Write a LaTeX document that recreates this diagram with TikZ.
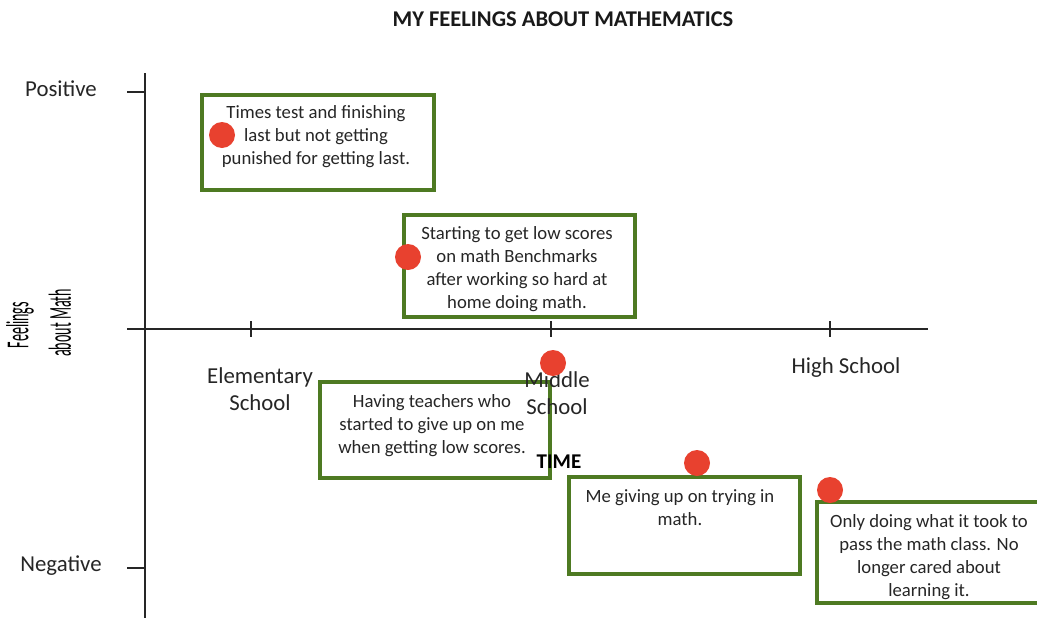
\documentclass[tikz,border=0pt]{standalone}
\usepackage{fontspec}
\setmainfont{Carlito}
\definecolor{boxgreen}{HTML}{4E7A22}
\definecolor{dotred}{HTML}{E8412F}
\definecolor{txt}{HTML}{262626}
\begin{document}
\begin{tikzpicture}[x=1pt,y=-1pt,
  box/.style={draw=boxgreen,line width=3.8pt,fill=white,inner sep=0pt,anchor=north west},
  btxt/.style={anchor=north,inner sep=0pt,align=center,text=txt,font=\fontsize{18.7}{23}\selectfont},
  dot/.style={circle,fill=dotred,minimum size=26pt,inner sep=0pt},
  lab/.style={text=txt,inner sep=0pt,align=center,font=\fontsize{22.8}{27}\selectfont},
  axis/.style={line width=2pt,black!85},
  tick/.style={line width=2pt,black!85},
  vlab/.style={rotate=90,text=black,inner sep=0pt,font=\fontsize{32}{34}\selectfont}]
\useasboundingbox (0,0) rectangle (1037,619);
\fill[white] (0,0) rectangle (1037,619);
% title
\node[text=black!90,font=\fontsize{22.5}{24}\selectfont\bfseries,inner sep=0pt] (title) at (563,19) {MY FEELINGS ABOUT MATHEMATICS};
% axes
\coordinate (yt) at (145,73);
\coordinate (yb) at (145,618);
\coordinate (xl) at (127,329);
\coordinate (xr) at (928,329);
\draw[axis] (yt) -- (yb);
\draw[axis] (xl) -- (xr);
% y ticks
\coordinate (tp1) at (127,92); \coordinate (tp2) at (145,92);
\coordinate (tn1) at (127,568); \coordinate (tn2) at (145,568);
\draw[tick] (tp1) -- (tp2);
\draw[tick] (tn1) -- (tn2);
% x ticks
\foreach \n/\x in {te/251,tm/551,th/830}{
  \coordinate (\n a) at (\x,321); \coordinate (\n b) at (\x,337);
  \draw[tick] (\n a) -- (\n b);
}
% axis labels
\node[lab] (pos) at (61,89) {Positive};
\node[lab] (neg) at (61,566) {Negative};
\node[vlab] (fa) at (20,325) {\scalebox{0.44}[1]{Feelings}};
\node[vlab] (fb) at (60,323) {\scalebox{0.44}[1]{about Math}};
% boxes
\node[box,minimum width=232pt,minimum height=95pt] (b1) at (200,93) {};
\node[box,minimum width=231pt,minimum height=102pt] (b2) at (402,213) {};
\node[box,minimum width=230pt,minimum height=96pt] (b3) at (318,380) {};
\node[box,minimum width=231pt,minimum height=97pt] (b4) at (567,475) {};
\node[box,minimum width=225pt,minimum height=101pt] (b5) at (815,500) {};
\node[btxt] (t1) at (316,105) {Times test and finishing\\last but not getting\\punished for getting last.};
\node[btxt] (t2) at (517,226) {Starting to get low scores\\on math Benchmarks\\after working so hard at\\home doing math.};
\node[btxt] (t3) at (432,394) {Having teachers who\\started to give up on me\\when getting low scores.};
\node[btxt] (t4) at (680,489) {Me giving up on trying in\\math.};
\node[btxt] (t5) at (929,514) {Only doing what it took to\\pass the math class. No\\longer cared about\\learning it.};
% x labels
\node[lab] (el) at (260,389) {Elementary\\School};
\node[lab] (ms) at (557,393) {Middle\\School};
\node[lab] (hs) at (846,368) {High School};
\node[text=black,inner sep=0pt,font=\fontsize{21}{23}\selectfont\bfseries] (time) at (559,462) {TIME};
% dots
\node[dot] (d1) at (222,135) {};
\node[dot] (d2) at (408,257) {};
\node[dot] (d3) at (553,363) {};
\node[dot] (d4) at (697,463) {};
\node[dot] (d5) at (830,490) {};
\end{tikzpicture}
\end{document}
